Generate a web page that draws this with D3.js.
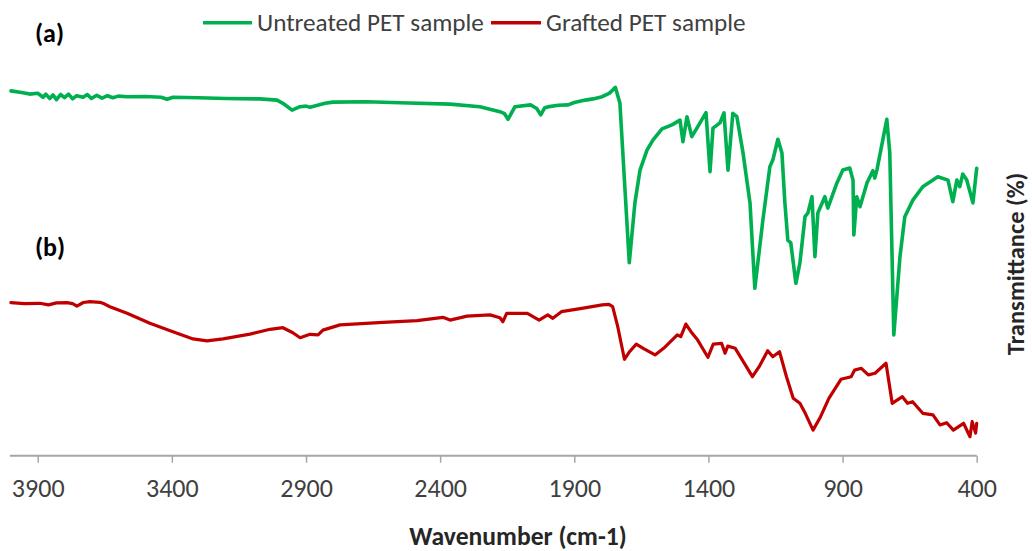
<!DOCTYPE html>
<html>
<head>
<meta charset="utf-8">
<script src="https://cdnjs.cloudflare.com/ajax/libs/d3/7.8.5/d3.min.js"></script>
<style>
  html, body { margin: 0; padding: 0; background: #fff; }
  svg { display: block; }
</style>
</head>
<body>
<svg id="chart" width="1032" height="551"></svg>
<script>
// ---- data ----
const seriesNames = ["Untreated PET sample", "Grafted PET sample"];
const panelLabels = ["(a)", "(b)"];
const wavenumberTicks = [3900, 3400, 2900, 2400, 1900, 1400, 900, 400];

// Untreated PET (a): [wavenumber cm-1, transmittance (arbitrary offset %)]
const untreatedPET = [
  [4000, 91.2], [3960, 90.8], [3930, 90.4], [3900, 90.6], [3880, 89.6], [3870, 90.4],
  [3855, 89.3], [3843, 90.2], [3830, 89.0], [3815, 90.3], [3800, 89.5], [3785, 90.4],
  [3770, 89.2], [3755, 90.0], [3731, 89.6], [3715, 90.3], [3700, 89.3], [3680, 90.1],
  [3660, 89.4], [3640, 90.0], [3620, 89.5], [3600, 89.9], [3567, 89.75], [3500, 89.8],
  [3440, 89.6], [3418, 89.1], [3396, 89.6], [3300, 89.5], [3200, 89.3], [3072, 89.2],
  [3008, 88.9], [2986, 88.1], [2952, 86.4], [2922, 87.25], [2900, 87.4], [2885, 87.1],
  [2829, 88.1], [2800, 88.4], [2673, 88.5], [2550, 88.25], [2363, 87.9], [2252, 87.25],
  [2177, 86.0], [2160, 85.5], [2147, 84.1], [2121, 87.25], [2063, 87.7], [2040, 86.8],
  [2025, 85.2], [2010, 87.0], [1999, 87.2], [1960, 87.6], [1923, 87.7], [1900, 88.3],
  [1859, 88.9], [1830, 89.2], [1796, 89.75], [1770, 90.6], [1757, 91.4], [1747, 92.1],
  [1730, 88.2], [1695, 48.25], [1674, 63.2], [1655, 71.4], [1629, 76.4], [1607, 78.9],
  [1573, 81.7], [1536, 82.7], [1506, 83.9], [1495, 78.5], [1480, 84.75], [1462, 79.75],
  [1443, 81.9], [1409, 85.75], [1394, 71.0], [1383, 81.9], [1357, 83.2], [1342, 85.7],
  [1327, 71.4], [1309, 85.6], [1294, 84.75], [1271, 75.7], [1245, 63.2], [1227, 41.85],
  [1197, 58.9], [1171, 72.25], [1160, 73.9], [1141, 79.1], [1126, 75.7], [1115, 63.2],
  [1104, 53.9], [1093, 53.2], [1074, 43.1], [1059, 48.2], [1040, 59.75], [1029, 60.7],
  [1014, 64.75], [1003, 49.75], [992, 60.7], [966, 64.75], [955, 61.9], [921, 68.2],
  [899, 71.4], [873, 71.9], [861, 68.9], [858, 55.2], [847, 64.75], [835, 62.25],
  [809, 68.2], [787, 71.25], [780, 69.4], [772, 71.4], [735, 84.1], [724, 75.7],
  [709, 30.2], [686, 49.75], [668, 59.75], [638, 63.9], [601, 67.25], [545, 69.75],
  [507, 68.9], [489, 63.5], [474, 68.9], [463, 67.25], [452, 70.4], [437, 68.9],
  [414, 63.2], [400, 71.85]
];

// Grafted PET (b)
const graftedPET = [
  [4000, 38.25], [3950, 38.0], [3892, 38.1], [3860, 37.7], [3830, 38.2], [3791, 38.25],
  [3770, 38.0], [3754, 37.4], [3730, 38.3], [3705, 38.5], [3668, 38.35], [3650, 37.9],
  [3631, 37.25], [3567, 35.6], [3482, 33.1], [3396, 31.0], [3321, 29.2], [3269, 28.7],
  [3209, 29.2], [3109, 30.4], [3034, 31.6], [2986, 32.0], [2949, 30.75], [2922, 29.5],
  [2885, 30.35], [2855, 30.2], [2837, 31.4], [2773, 32.7], [2613, 33.35], [2486, 33.75],
  [2390, 34.6], [2363, 33.9], [2300, 34.9], [2214, 35.2], [2177, 34.5], [2166, 33.5],
  [2152, 35.6], [2075, 35.6], [2031, 33.9], [1999, 35.2], [1980, 34.35], [1948, 36.0],
  [1872, 36.85], [1796, 37.7], [1771, 37.85], [1757, 37.25], [1738, 32.25], [1713, 24.1],
  [1694, 26.0], [1669, 27.9], [1643, 26.85], [1599, 25.2], [1567, 26.85], [1516, 30.2],
  [1503, 29.75], [1484, 32.9], [1465, 31.0], [1440, 28.9], [1402, 24.6], [1382, 27.9],
  [1351, 28.1], [1338, 25.6], [1328, 27.4], [1300, 26.85], [1236, 19.75], [1211, 22.25],
  [1179, 26.25], [1160, 24.75], [1135, 26.0], [1109, 19.75], [1084, 14.35], [1059, 13.1],
  [1039, 10.6], [1010, 6.4], [982, 9.75], [951, 14.35], [906, 19.1], [868, 19.75],
  [855, 21.4], [830, 21.85], [804, 20.2], [779, 20.6], [738, 23.1], [715, 13.1],
  [677, 14.75], [658, 13.1], [639, 13.5], [601, 10.6], [563, 10.2], [537, 7.7],
  [512, 8.25], [487, 6.4], [449, 8.1], [425, 4.75], [417, 8.5], [404, 5.65], [400, 8.1]
];

const seriesColors = ["#00b050", "#c00000"];

// ---- layout ----
const svg = d3.select("#chart");
const FONT = "Carlito, Calibri, Lato, 'Open Sans', sans-serif";
const plot = { left: 10.9, right: 976.7, top: 55.7, bottom: 455.7 };

const x = d3.scaleLinear().domain([4000, 400]).range([plot.left, plot.right]);
const y = d3.scaleLinear().domain([0, 100]).range([plot.bottom, plot.top]);

// x axis
const axisG = svg.append("g").attr("transform", `translate(0,${plot.bottom})`);
const xAxis = d3.axisBottom(x).tickValues(wavenumberTicks).tickSize(7).tickSizeOuter(0).tickPadding(16)
  .tickFormat(d3.format("d"));
axisG.call(xAxis);
axisG.select(".domain").attr("stroke", "#a6a6a6").attr("stroke-width", 2)
  .attr("d", `M${plot.left - 1},0H${plot.right}`);
axisG.selectAll(".tick line").attr("stroke", "#a6a6a6").attr("stroke-width", 1.5);
axisG.selectAll(".tick text").attr("font-family", FONT).attr("font-size", 26)
  .attr("fill", "#404040");

// lines
const line = d3.line().x(d => x(d[0])).y(d => y(d[1]));
[untreatedPET, graftedPET].forEach((s, i) => {
  svg.append("path").datum(s)
    .attr("fill", "none")
    .attr("stroke", seriesColors[i])
    .attr("stroke-width", i === 0 ? 3.6 : 3.2)
    .attr("stroke-linejoin", "round")
    .attr("stroke-linecap", "round")
    .attr("d", line);
});

// panel labels
const panelY = [42, 256];
panelLabels.forEach((t, i) => {
  svg.append("text").attr("x", 35).attr("y", panelY[i]).text(t)
    .attr("font-family", FONT).attr("font-size", 26).attr("font-weight", "bold").attr("fill", "#000");
});

// legend
const legendItems = [
  { x1: 203, x2: 252, tx: 257 },
  { x1: 491, x2: 541, tx: 546 }
];
legendItems.forEach((it, i) => {
  svg.append("line").attr("x1", it.x1).attr("x2", it.x2).attr("y1", 22.7).attr("y2", 22.7)
    .attr("stroke", seriesColors[i]).attr("stroke-width", 3.5);
  svg.append("text").attr("x", it.tx).attr("y", 31).text(seriesNames[i])
    .attr("font-family", FONT).attr("font-size", 25.2).attr("fill", "#404040");
});

// axis titles
svg.append("text").attr("x", 518).attr("y", 545).attr("text-anchor", "middle")
  .text("Wavenumber (cm-1)")
  .attr("font-family", FONT).attr("font-size", 25.6).attr("font-weight", "bold").attr("fill", "#262626");
svg.append("text").attr("transform", "translate(1024,264) rotate(-90)").attr("text-anchor", "middle")
  .text("Transmittance (%)")
  .attr("font-family", FONT).attr("font-size", 24.5).attr("font-weight", "bold").attr("fill", "#262626");
</script>
</body>
</html>
